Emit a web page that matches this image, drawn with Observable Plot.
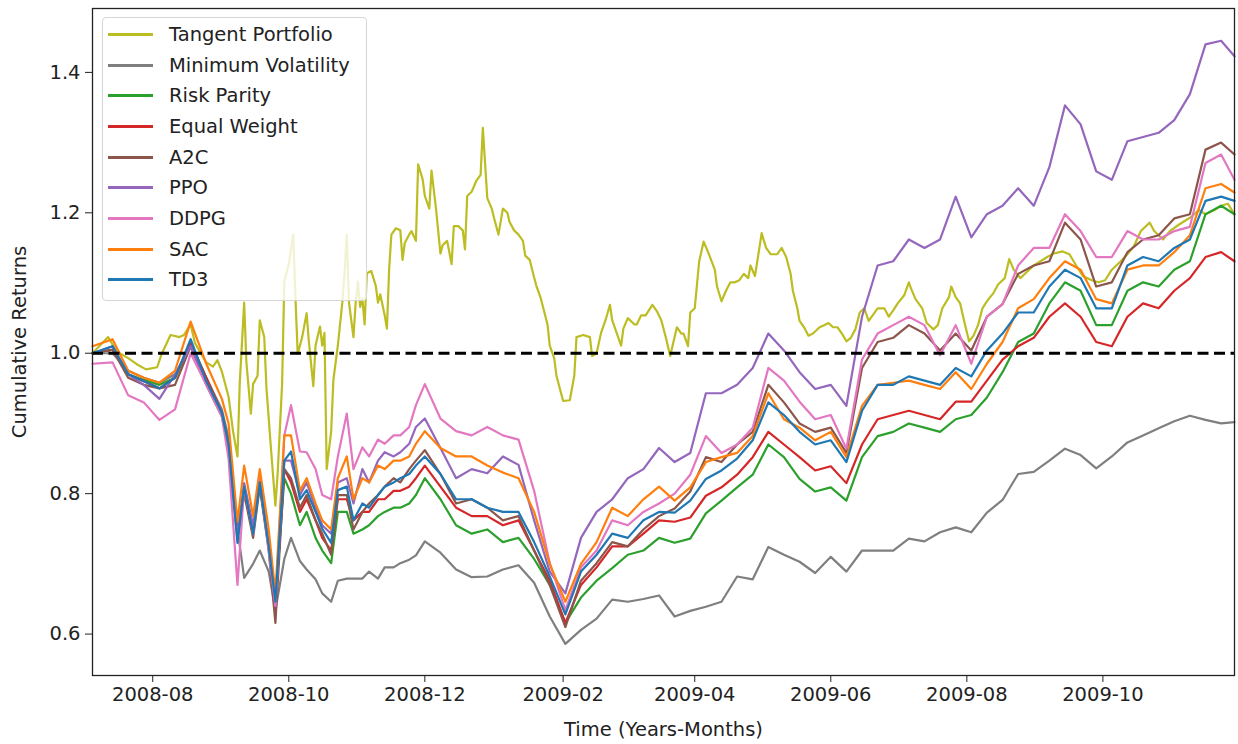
<!DOCTYPE html>
<html><head><meta charset="utf-8">
<script src="https://cdn.jsdelivr.net/npm/d3@7"></script>
<script src="https://cdn.jsdelivr.net/npm/@observablehq/plot@0.6"></script>
<style>
body{margin:0;background:#fff;}
#wrap{position:relative;width:1238px;height:744px;font-family:"DejaVu Sans",sans-serif;}
#legend{position:absolute;left:102px;top:17px;width:265px;height:284px;background:rgba(255,255,255,0.8);border:1px solid #d6d6d6;border-radius:4px;box-sizing:border-box;padding-top:1px;z-index:2;}
.row{height:30.7px;display:flex;align-items:center;}
.sw{width:45px;height:3px;margin-left:5px;margin-right:16px;flex:none;}
.lab{font-size:19.5px;color:#222;white-space:nowrap;}
</style></head><body>
<div id="wrap"><div id="legend"></div></div>
<script>
const seriesNames = ["Tangent Portfolio","Minimum Volatility","Risk Parity","Equal Weight","A2C","PPO","DDPG","SAC","TD3"];
const seriesColors = ["#bcbd22","#7f7f7f","#2ca02c","#d62728","#8c564b","#9467bd","#e377c2","#ff7f0e","#1f77b4"];
const xTicks = ["2008-08-01","2008-10-01","2008-12-01","2009-02-01","2009-04-01","2009-06-01","2009-08-01","2009-10-01"];
const yTicks = [0.6, 0.8, 1.0, 1.2, 1.4];

const dates = ["2008-07-05","2008-07-14","2008-07-21","2008-07-28","2008-08-04","2008-08-11","2008-08-18","2008-08-25","2008-09-01","2008-09-04",
"2008-09-08","2008-09-11","2008-09-15","2008-09-18","2008-09-22","2008-09-25","2008-09-29","2008-10-02","2008-10-06","2008-10-09",
"2008-10-13","2008-10-16","2008-10-20","2008-10-23","2008-10-27","2008-10-30","2008-11-03","2008-11-06","2008-11-10","2008-11-13",
"2008-11-17","2008-11-20","2008-11-24","2008-11-27","2008-12-01","2008-12-08","2008-12-15","2008-12-22","2008-12-29","2009-01-05",
"2009-01-12","2009-01-19","2009-01-26","2009-02-02","2009-02-09","2009-02-16","2009-02-23","2009-03-02","2009-03-09","2009-03-16",
"2009-03-23","2009-03-30","2009-04-06","2009-04-13","2009-04-20","2009-04-27","2009-05-04","2009-05-11","2009-05-18","2009-05-25",
"2009-06-01","2009-06-08","2009-06-15","2009-06-22","2009-06-29","2009-07-06","2009-07-13","2009-07-20","2009-07-27","2009-08-03",
"2009-08-10","2009-08-17","2009-08-24","2009-08-31","2009-09-07","2009-09-14","2009-09-21","2009-09-28","2009-10-05","2009-10-12",
"2009-10-19","2009-10-26","2009-11-02","2009-11-09","2009-11-16","2009-11-23","2009-11-29"];

const minVol = [1.0,1.0,0.975,0.965,0.958,0.97,1.01,0.965,0.92,0.88,
0.75,0.68,0.70,0.719,0.689,0.634,0.707,0.737,0.704,0.692,
0.678,0.658,0.646,0.676,0.679,0.679,0.679,0.689,0.679,0.695,
0.695,0.701,0.706,0.712,0.732,0.716,0.692,0.681,0.682,0.692,
0.698,0.673,0.625,0.586,0.606,0.622,0.649,0.646,0.65,0.655,
0.625,0.633,0.639,0.646,0.682,0.678,0.724,0.713,0.703,0.687,
0.71,0.689,0.719,0.719,0.719,0.736,0.732,0.745,0.752,0.745,
0.773,0.791,0.828,0.831,0.847,0.864,0.855,0.836,0.853,0.873,
0.883,0.893,0.903,0.911,0.905,0.9,0.902];

const riskParity = [1.0,1.005,0.97,0.962,0.955,0.965,1.015,0.965,0.915,0.875,
0.75,0.80,0.752,0.81,0.725,0.646,0.822,0.80,0.755,0.774,
0.737,0.719,0.701,0.774,0.774,0.743,0.749,0.755,0.768,0.774,
0.78,0.78,0.786,0.798,0.822,0.792,0.755,0.743,0.749,0.731,
0.737,0.707,0.67,0.616,0.652,0.676,0.694,0.713,0.719,0.737,
0.73,0.736,0.772,0.79,0.809,0.827,0.87,0.852,0.821,0.803,
0.809,0.79,0.852,0.882,0.888,0.9,0.894,0.888,0.906,0.912,
0.937,0.973,1.016,1.028,1.071,1.101,1.089,1.04,1.04,1.089,
1.101,1.095,1.119,1.131,1.198,1.21,1.198];

const equalWeight = [1.0,1.005,0.97,0.96,0.95,0.965,1.015,0.965,0.915,0.87,
0.745,0.805,0.749,0.816,0.725,0.64,0.835,0.816,0.774,0.792,
0.762,0.737,0.719,0.792,0.792,0.762,0.774,0.774,0.792,0.792,
0.804,0.804,0.81,0.822,0.84,0.81,0.78,0.768,0.768,0.755,
0.762,0.719,0.676,0.616,0.67,0.695,0.725,0.725,0.743,0.762,
0.76,0.766,0.797,0.809,0.827,0.852,0.888,0.87,0.852,0.833,
0.839,0.815,0.87,0.906,0.912,0.918,0.912,0.906,0.931,0.931,
0.961,0.991,1.01,1.022,1.052,1.071,1.052,1.016,1.01,1.052,
1.071,1.064,1.089,1.107,1.137,1.144,1.131];

const a2c = [1.0,1.005,0.965,0.955,0.95,0.955,1.01,0.955,0.91,0.865,
0.735,0.80,0.737,0.81,0.719,0.616,0.835,0.822,0.78,0.798,
0.762,0.743,0.713,0.798,0.798,0.749,0.774,0.786,0.798,0.81,
0.822,0.816,0.835,0.847,0.862,0.828,0.786,0.792,0.78,0.762,
0.768,0.719,0.67,0.61,0.676,0.701,0.731,0.725,0.749,0.768,
0.779,0.803,0.852,0.845,0.87,0.888,0.955,0.93,0.9,0.888,
0.894,0.858,0.979,1.016,1.022,1.04,1.028,1.004,1.028,1.004,
1.052,1.07,1.113,1.125,1.131,1.186,1.162,1.095,1.101,1.144,
1.162,1.168,1.192,1.198,1.29,1.30,1.283];

const ppo = [1.0,1.01,0.97,0.955,0.935,0.97,1.01,0.96,0.915,0.87,
0.74,0.815,0.755,0.816,0.725,0.64,0.847,0.847,0.798,0.816,
0.78,0.755,0.743,0.816,0.822,0.786,0.835,0.816,0.847,0.859,
0.853,0.859,0.871,0.895,0.907,0.865,0.822,0.835,0.829,0.853,
0.841,0.762,0.689,0.658,0.737,0.774,0.792,0.822,0.835,0.865,
0.845,0.858,0.943,0.943,0.955,0.979,1.028,1.004,0.973,0.949,
0.955,0.925,1.052,1.125,1.131,1.162,1.15,1.162,1.223,1.165,
1.198,1.21,1.235,1.21,1.265,1.353,1.326,1.259,1.247,1.302,
1.308,1.314,1.332,1.369,1.44,1.445,1.423];

const ddpg = [0.985,0.987,0.94,0.93,0.905,0.92,1.0,0.955,0.91,0.85,
0.67,0.81,0.743,0.822,0.719,0.64,0.883,0.926,0.86,0.859,
0.835,0.798,0.792,0.853,0.914,0.835,0.866,0.853,0.877,0.871,
0.883,0.883,0.895,0.926,0.956,0.907,0.889,0.883,0.895,0.883,
0.877,0.804,0.701,0.634,0.695,0.719,0.762,0.755,0.774,0.786,
0.80,0.827,0.882,0.858,0.87,0.894,0.979,0.961,0.931,0.906,
0.912,0.864,0.991,1.028,1.04,1.052,1.04,0.997,1.04,0.985,
1.052,1.07,1.125,1.15,1.15,1.198,1.174,1.137,1.137,1.174,
1.162,1.162,1.174,1.18,1.271,1.283,1.247];

const sac = [1.01,1.02,0.975,0.965,0.958,0.975,1.045,0.985,0.935,0.9,
0.76,0.84,0.768,0.835,0.749,0.658,0.883,0.883,0.804,0.822,
0.786,0.762,0.749,0.822,0.853,0.792,0.822,0.816,0.84,0.835,
0.847,0.847,0.853,0.871,0.889,0.865,0.853,0.853,0.84,0.83,
0.822,0.774,0.70,0.646,0.70,0.731,0.78,0.768,0.792,0.81,
0.79,0.809,0.845,0.852,0.858,0.882,0.943,0.906,0.894,0.876,
0.888,0.852,0.925,0.955,0.958,0.961,0.955,0.949,0.973,0.949,
0.985,1.016,1.064,1.077,1.107,1.131,1.119,1.077,1.071,1.119,
1.125,1.125,1.144,1.168,1.235,1.241,1.229];

const td3 = [1.0,1.01,0.97,0.96,0.95,0.965,1.02,0.96,0.915,0.87,
0.73,0.81,0.743,0.816,0.725,0.646,0.847,0.86,0.792,0.805,
0.774,0.75,0.73,0.805,0.81,0.762,0.786,0.78,0.798,0.81,
0.816,0.822,0.828,0.84,0.853,0.828,0.792,0.792,0.78,0.774,
0.774,0.731,0.682,0.628,0.689,0.713,0.743,0.737,0.762,0.774,
0.773,0.79,0.821,0.833,0.85,0.876,0.93,0.912,0.888,0.87,
0.876,0.845,0.918,0.955,0.955,0.967,0.961,0.955,0.979,0.967,
1.004,1.028,1.058,1.058,1.095,1.119,1.107,1.064,1.064,1.125,
1.137,1.131,1.15,1.162,1.217,1.223,1.217];

const tangentSeries = [
["2008-07-05",1.0],["2008-07-12",1.023],["2008-07-16",1.002],["2008-07-21",0.993],["2008-07-25",0.984],["2008-07-29",0.977],
["2008-08-03",0.98],["2008-08-05",0.999],["2008-08-09",1.026],["2008-08-13",1.023],["2008-08-15",1.026],["2008-08-18",1.041],
["2008-08-20",1.014],["2008-08-25",0.987],["2008-08-28",0.981],["2008-08-30",0.99],["2008-09-01",0.974],["2008-09-04",0.938],
["2008-09-06",0.889],["2008-09-08",0.853],["2008-09-09",0.956],["2008-09-11",1.072],["2008-09-12",0.987],["2008-09-14",0.914],
["2008-09-15",0.956],["2008-09-17",0.968],["2008-09-18",1.047],["2008-09-20",1.023],["2008-09-21",0.95],["2008-09-23",0.865],
["2008-09-25",0.783],["2008-09-26",0.828],["2008-09-28",0.956],["2008-09-29",1.102],["2008-10-01",1.127],["2008-10-03",1.169],
["2008-10-04",1.078],["2008-10-05",0.999],["2008-10-07",1.023],["2008-10-09",1.057],["2008-10-10",1.017],["2008-10-12",0.953],
["2008-10-13",1.011],["2008-10-15",1.038],["2008-10-16",1.011],["2008-10-17",1.029],["2008-10-18",0.835],["2008-10-20",0.889],
["2008-10-21",0.962],["2008-10-23",1.011],["2008-10-25",1.072],["2008-10-26",1.114],["2008-10-27",1.169],["2008-10-28",1.072],
["2008-10-30",1.023],["2008-10-31",1.072],["2008-11-01",1.102],["2008-11-02",1.066],["2008-11-03",1.078],["2008-11-04",1.041],
["2008-11-05",1.114],["2008-11-07",1.117],["2008-11-09",1.096],["2008-11-10",1.072],["2008-11-11",1.084],["2008-11-13",1.054],
["2008-11-14",1.035],["2008-11-15",1.12],["2008-11-16",1.169],["2008-11-18",1.178],["2008-11-20",1.175],["2008-11-21",1.133],
["2008-11-22",1.157],["2008-11-24",1.169],["2008-11-25",1.174],["2008-11-27",1.16],["2008-11-28",1.269],["2008-11-30",1.248],
["2008-12-01",1.224],["2008-12-03",1.206],["2008-12-04",1.26],["2008-12-06",1.206],["2008-12-08",1.142],["2008-12-09",1.154],
["2008-12-11",1.16],["2008-12-13",1.127],["2008-12-14",1.181],["2008-12-16",1.181],["2008-12-18",1.175],["2008-12-19",1.148],
["2008-12-20",1.224],["2008-12-22",1.23],["2008-12-24",1.245],["2008-12-26",1.254],["2008-12-27",1.321],["2008-12-29",1.221],
["2008-12-31",1.206],["2009-01-01",1.193],["2009-01-03",1.169],["2009-01-05",1.206],["2009-01-07",1.2],["2009-01-08",1.187],
["2009-01-10",1.175],["2009-01-12",1.169],["2009-01-14",1.16],["2009-01-15",1.139],["2009-01-17",1.133],["2009-01-19",1.108],
["2009-01-20",1.096],["2009-01-22",1.078],["2009-01-25",1.041],["2009-01-26",1.011],["2009-01-28",0.993],["2009-01-29",0.968],
["2009-01-31",0.944],["2009-02-01",0.932],["2009-02-04",0.933],["2009-02-06",0.968],["2009-02-07",1.023],["2009-02-10",1.026],
["2009-02-13",1.023],["2009-02-14",0.996],["2009-02-16",1.0],["2009-02-18",1.029],["2009-02-20",1.047],["2009-02-22",1.069],
["2009-02-23",1.047],["2009-02-25",1.029],["2009-02-27",1.011],["2009-02-28",1.035],["2009-03-02",1.05],["2009-03-05",1.041],
["2009-03-06",1.041],["2009-03-08",1.054],["2009-03-10",1.054],["2009-03-13",1.069],["2009-03-15",1.06],["2009-03-17",1.047],
["2009-03-19",1.023],["2009-03-21",0.996],["2009-03-24",1.037],["2009-03-26",1.028],["2009-03-27",1.028],["2009-03-29",1.01],
["2009-03-30",1.058],["2009-04-01",1.064],["2009-04-03",1.131],["2009-04-05",1.159],["2009-04-07",1.144],["2009-04-10",1.119],
["2009-04-11",1.095],["2009-04-13",1.074],["2009-04-15",1.089],["2009-04-17",1.101],["2009-04-19",1.101],["2009-04-21",1.104],
["2009-04-23",1.113],["2009-04-25",1.107],["2009-04-26",1.125],["2009-04-28",1.11],["2009-04-30",1.15],["2009-05-01",1.171],
["2009-05-03",1.15],["2009-05-05",1.141],["2009-05-08",1.141],["2009-05-10",1.15],["2009-05-12",1.137],["2009-05-14",1.113],
["2009-05-15",1.089],["2009-05-17",1.064],["2009-05-18",1.046],["2009-05-20",1.037],["2009-05-22",1.025],["2009-05-24",1.028],
["2009-05-27",1.037],["2009-05-29",1.04],["2009-05-31",1.043],["2009-06-02",1.037],["2009-06-04",1.037],["2009-06-06",1.028],
["2009-06-08",1.017],["2009-06-10",1.022],["2009-06-12",1.034],["2009-06-14",1.058],["2009-06-16",1.064],["2009-06-18",1.046],
["2009-06-20",1.055],["2009-06-22",1.064],["2009-06-25",1.064],["2009-06-27",1.052],["2009-06-29",1.061],["2009-07-01",1.071],
["2009-07-04",1.083],["2009-07-06",1.101],["2009-07-07",1.092],["2009-07-09",1.077],["2009-07-12",1.064],["2009-07-14",1.043],
["2009-07-17",1.034],["2009-07-19",1.04],["2009-07-21",1.064],["2009-07-24",1.08],["2009-07-25",1.095],["2009-07-27",1.08],
["2009-07-29",1.071],["2009-07-31",1.043],["2009-08-02",1.017],["2009-08-04",1.025],["2009-08-06",1.04],["2009-08-08",1.064],
["2009-08-10",1.074],["2009-08-13",1.086],["2009-08-15",1.098],["2009-08-18",1.107],["2009-08-20",1.134],["2009-08-22",1.119],
["2009-08-25",1.107],["2009-08-28",1.116],["2009-08-31",1.125],["2009-09-03",1.131],["2009-09-06",1.137],["2009-09-09",1.142],
["2009-09-13",1.145],["2009-09-16",1.141],["2009-09-19",1.125],["2009-09-22",1.11],["2009-09-26",1.104],["2009-09-29",1.101],
["2009-10-02",1.104],["2009-10-05",1.119],["2009-10-09",1.131],["2009-10-12",1.141],["2009-10-15",1.153],["2009-10-18",1.174],
["2009-10-22",1.186],["2009-10-24",1.174],["2009-10-28",1.162],["2009-10-31",1.174],["2009-11-04",1.183],["2009-11-07",1.189],
["2009-11-10",1.195],["2009-11-13",1.204],["2009-11-16",1.198],["2009-11-20",1.204],["2009-11-23",1.21],["2009-11-26",1.213],
["2009-11-29",1.198]];

const parse = d3.utcParse("%Y-%m-%d");
const rows = [];
tangentSeries.forEach(([d, v]) => rows.push({date: parse(d), value: v, series: seriesNames[0]}));
[minVol, riskParity, equalWeight, a2c, ppo, ddpg, sac, td3].forEach((vals, i) => {
  vals.forEach((v, j) => rows.push({date: parse(dates[j]), value: v, series: seriesNames[i + 1]}));
});

const chart = Plot.plot({
  width: 1238, height: 744,
  marginLeft: 92, marginRight: 4, marginTop: 8, marginBottom: 69,
  style: {fontFamily: "'DejaVu Sans', sans-serif", fontSize: "19.5px", color: "#222", background: "#fff"},
  x: {type: "utc", domain: [parse("2008-07-05"), parse("2009-11-29")]},
  y: {domain: [0.541, 1.491]},
  color: {domain: seriesNames, range: seriesColors},
  marks: [
    Plot.line(rows, {x: "date", y: "value", z: "series", stroke: "series", strokeWidth: 2.2, strokeLinejoin: "round"}),
    Plot.ruleY([1], {stroke: "#000", strokeWidth: 3, strokeDasharray: "11,5.5"}),
    Plot.frame({stroke: "#222", strokeWidth: 1.3}),
    Plot.axisX({ticks: xTicks.map(parse), tickFormat: d3.utcFormat("%Y-%m"), tickSize: 7, tickPadding: 5, label: "Time (Years-Months)", labelAnchor: "center", labelOffset: 60, labelArrow: "none"}),
    Plot.axisY({ticks: yTicks, tickFormat: d3.format(".1f"), tickSize: 7, tickPadding: 5, label: "Cumulative Returns", labelAnchor: "center", labelOffset: 80, labelArrow: "none"})
  ]
});
document.getElementById("wrap").appendChild(chart);

const legend = document.getElementById("legend");
seriesNames.forEach((name, i) => {
  const row = document.createElement("div");
  row.className = "row";
  const sw = document.createElement("div");
  sw.className = "sw";
  sw.style.background = seriesColors[i];
  const lab = document.createElement("span");
  lab.className = "lab";
  lab.textContent = name;
  row.appendChild(sw); row.appendChild(lab);
  legend.appendChild(row);
});
</script></body></html>
